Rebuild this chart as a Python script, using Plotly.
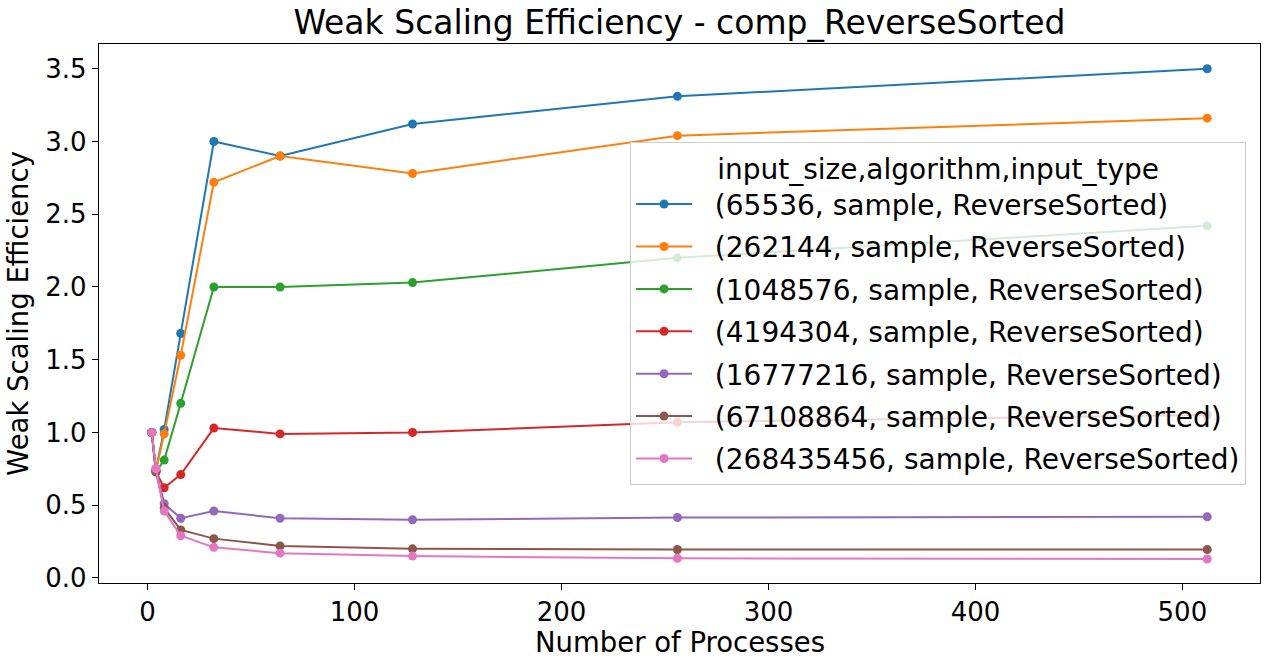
import plotly.graph_objects as go

# weak scaling efficiency per input size (sample sort, ReverseSorted input)
procs = [2, 4, 8, 16, 32, 64, 128, 256, 512]

labels = [
    "(65536, sample, ReverseSorted)",
    "(262144, sample, ReverseSorted)",
    "(1048576, sample, ReverseSorted)",
    "(4194304, sample, ReverseSorted)",
    "(16777216, sample, ReverseSorted)",
    "(67108864, sample, ReverseSorted)",
    "(268435456, sample, ReverseSorted)",
]

eff_65536 = [1.0, 0.74, 1.02, 1.68, 3.00, 2.90, 3.12, 3.31, 3.50]
eff_262144 = [1.0, 0.74, 0.99, 1.53, 2.72, 2.90, 2.78, 3.04, 3.16]
eff_1048576 = [1.0, 0.73, 0.81, 1.20, 2.00, 2.00, 2.03, 2.20, 2.42]
eff_4194304 = [1.0, 0.73, 0.62, 0.71, 1.03, 0.99, 1.00, 1.07, 1.12]
eff_16777216 = [1.0, 0.75, 0.51, 0.41, 0.46, 0.41, 0.40, 0.415, 0.42]
eff_67108864 = [1.0, 0.73, 0.48, 0.33, 0.27, 0.22, 0.20, 0.195, 0.195]
eff_268435456 = [1.0, 0.75, 0.46, 0.29, 0.21, 0.17, 0.15, 0.135, 0.13]

series = [eff_65536, eff_262144, eff_1048576, eff_4194304,
          eff_16777216, eff_67108864, eff_268435456]
colors = ["#1f77b4", "#ff7f0e", "#2ca02c", "#d62728", "#9467bd", "#8c564b", "#e377c2"]

font = "DejaVu Sans"
pad = "\u00a0\u00a0"  # gap between legend line and label, like matplotlib

fig = go.Figure()
for name, vals, col in zip(labels, series, colors):
    fig.add_trace(go.Scatter(
        x=procs, y=vals, name=pad + name, mode="lines+markers",
        line=dict(color=col, width=2),
        marker=dict(color=col, size=9),
        legendgroup=name,
    ))

fig.update_layout(
    width=1270, height=664,
    margin=dict(l=99, r=10, t=44, b=81),
    paper_bgcolor="white", plot_bgcolor="white",
    font=dict(family=font, color="black", size=26),
    title=dict(text="Weak Scaling Efficiency - comp_ReverseSorted",
               x=0.535, xanchor="center", y=0.966, yanchor="middle",
               font=dict(size=33, family=font)),
    legend=dict(
        title=dict(text="input_size,algorithm,input_type", side="top center",
                   font=dict(size=28)),
        font=dict(size=28, family=font),
        x=0.988, xanchor="right", y=0.50, yanchor="middle",
        bgcolor="rgba(255,255,255,0.8)", bordercolor="#cccccc", borderwidth=1,
        tracegroupgap=3, traceorder="grouped", itemwidth=56,
    ),
    showlegend=True,
    annotations=[dict(text="Number of Processes", xref="paper", yref="paper",
                      x=0.5, y=-0.11, xanchor="center", yanchor="middle",
                      showarrow=False, font=dict(size=27.5, family=font))],
)

fig.update_xaxes(
    range=[-23.5, 537.5], tickvals=[0, 100, 200, 300, 400, 500],
    showline=True, linecolor="black", linewidth=1.3, mirror=True,
    ticks="outside", ticklen=6, tickcolor="black", showgrid=False, zeroline=False,
    automargin=False,
)
fig.update_yaxes(
    range=[-0.035, 3.67], tickvals=[0, 0.5, 1, 1.5, 2, 2.5, 3, 3.5],
    tickformat=".1f",
    showline=True, linecolor="black", linewidth=1.3, mirror=True,
    ticks="outside", ticklen=6, tickcolor="black", showgrid=False, zeroline=False,
    automargin=False,
    title=dict(text="Weak Scaling Efficiency", standoff=8, font=dict(size=27.5)),
)

# drop the default 8px page margin so the figure fills the window
fig.write_html("out.html", config={"displayModeBar": False},
               post_script="document.body.style.margin = '0';")
